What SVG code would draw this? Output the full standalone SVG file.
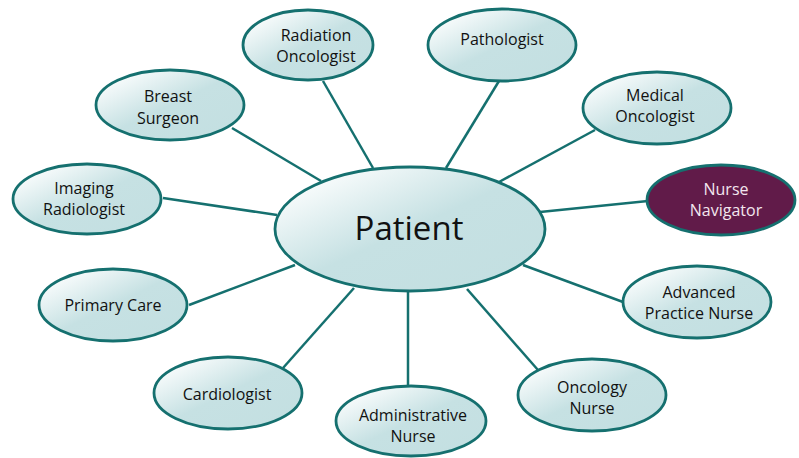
<svg xmlns="http://www.w3.org/2000/svg" width="799" height="458" viewBox="0 0 799 458">
  <defs>
    <linearGradient id="tealFill" x1="0" y1="0" x2="1" y2="1">
      <stop offset="0.08" stop-color="#ffffff"/>
      <stop offset="0.5" stop-color="#c6e1e3"/>
      <stop offset="1" stop-color="#c3dfe1"/>
    </linearGradient>
  </defs>
  <style>
    .edge { stroke: #15706f; stroke-width: 2.5; fill: none; }
    .node ellipse { fill: url(#tealFill); stroke: #15706f; stroke-width: 2.8; }
    .node text { font-family: "Open Sans", "Liberation Sans", sans-serif; font-size: 16px; fill: #111111; text-anchor: middle; }
    #nurse-navigator ellipse { fill: #611b49; }
    #nurse-navigator text { fill: #f3e6ee; }
    #patient text { font-size: 33px; }
  </style>

  <g id="connectors">
    <line class="edge" x1="232" y1="128" x2="321" y2="181"/>
    <line class="edge" x1="323" y1="81" x2="373" y2="168"/>
    <line class="edge" x1="499" y1="81" x2="446" y2="168"/>
    <line class="edge" x1="595" y1="130" x2="499" y2="182"/>
    <line class="edge" x1="163" y1="198" x2="277" y2="215"/>
    <line class="edge" x1="648" y1="201" x2="540" y2="212"/>
    <line class="edge" x1="189" y1="305" x2="295" y2="265"/>
    <line class="edge" x1="623" y1="302" x2="523" y2="265"/>
    <line class="edge" x1="283" y1="368" x2="354" y2="288"/>
    <line class="edge" x1="538" y1="370" x2="467" y2="289"/>
    <line class="edge" x1="408" y1="292" x2="408" y2="387"/>
  </g>

  <g id="patient" class="node">
    <ellipse cx="410" cy="229" rx="135" ry="62"/>
    <text x="409" y="240">Patient</text>
  </g>

  <g id="radiation-oncologist" class="node">
    <ellipse cx="308" cy="45" rx="65" ry="35"/>
    <text x="316" y="41">Radiation</text>
    <text x="316" y="62">Oncologist</text>
  </g>

  <g id="pathologist" class="node">
    <ellipse cx="502" cy="45" rx="74" ry="36"/>
    <text x="502" y="45">Pathologist</text>
  </g>

  <g id="breast-surgeon" class="node">
    <ellipse cx="170" cy="105" rx="74" ry="35"/>
    <text x="168" y="102">Breast</text>
    <text x="168" y="124">Surgeon</text>
  </g>

  <g id="medical-oncologist" class="node">
    <ellipse cx="657" cy="108" rx="74" ry="36"/>
    <text x="655" y="101">Medical</text>
    <text x="655" y="122">Oncologist</text>
  </g>

  <g id="imaging-radiologist" class="node">
    <ellipse cx="87" cy="199" rx="74" ry="35"/>
    <text x="84" y="194">Imaging</text>
    <text x="84" y="215">Radiologist</text>
  </g>

  <g id="nurse-navigator" class="node">
    <ellipse cx="721" cy="200" rx="74" ry="35"/>
    <text x="726" y="195">Nurse</text>
    <text x="726" y="216">Navigator</text>
  </g>

  <g id="primary-care" class="node">
    <ellipse cx="113" cy="305" rx="74" ry="36"/>
    <text x="113" y="311">Primary Care</text>
  </g>

  <g id="advanced-practice-nurse" class="node">
    <ellipse cx="697" cy="302" rx="74" ry="36"/>
    <text x="699" y="298">Advanced</text>
    <text x="699" y="319">Practice Nurse</text>
  </g>

  <g id="cardiologist" class="node">
    <ellipse cx="228" cy="393" rx="74" ry="36"/>
    <text x="227" y="400">Cardiologist</text>
  </g>

  <g id="oncology-nurse" class="node">
    <ellipse cx="592" cy="395" rx="74" ry="36"/>
    <text x="592" y="393">Oncology</text>
    <text x="592" y="414">Nurse</text>
  </g>

  <g id="administrative-nurse" class="node">
    <ellipse cx="411" cy="421" rx="75" ry="35"/>
    <text x="413" y="421">Administrative</text>
    <text x="413" y="442">Nurse</text>
  </g>
</svg>
